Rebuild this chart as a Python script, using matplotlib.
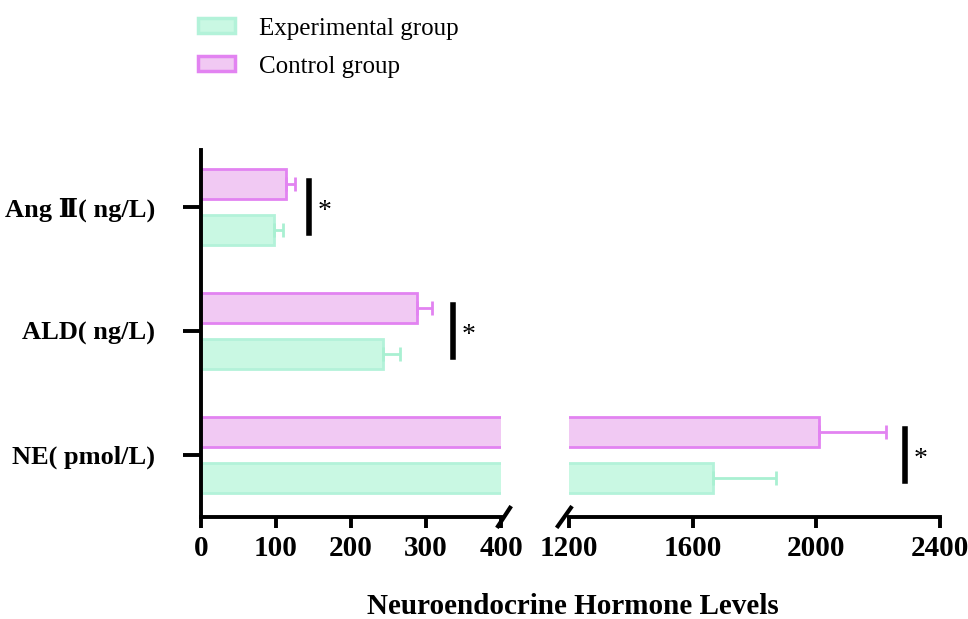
import numpy as np
import matplotlib.pyplot as plt
from matplotlib.patches import Patch

plt.rcParams['font.family'] = ['Liberation Serif', 'DejaVu Serif', 'Noto Sans CJK SC']

# data
categories = ['NE( pmol/L)', 'ALD( ng/L)', 'Ang Ⅱ( ng/L)']
exp_mean = [1665, 243, 97]
exp_err = [203, 22, 12]
ctl_mean = [2010, 288, 113]
ctl_err = [216, 20, 12]
sig_x = [2287, 336, 144]
sig_label = ['*', '*', '*']

exp_face, exp_edge = '#c9f8e3', '#b3f2d9'
ctl_face, ctl_edge = '#f1c9f3', '#e283f1'

fig = plt.figure(figsize=(9.68, 6.19), dpi=100)
ax1 = fig.add_axes([0.2076, 0.1648, 0.3100, 0.5929])
ax2 = fig.add_axes([0.5878, 0.1648, 0.3833, 0.5929])

y = np.arange(len(categories))
h = 0.245
off = 0.187

for ax in (ax1, ax2):
    ax.barh(y - off, exp_mean, h, color=exp_face, edgecolor=exp_edge, linewidth=2,
            xerr=[np.zeros(3), exp_err], error_kw=dict(ecolor='#a9f0d2', elinewidth=2, capsize=5, capthick=2))
    ax.barh(y + off, ctl_mean, h, color=ctl_face, edgecolor=ctl_edge, linewidth=2,
            xerr=[np.zeros(3), ctl_err], error_kw=dict(ecolor=ctl_edge, elinewidth=2, capsize=5, capthick=2))
    ax.set_ylim(-0.5, 2.46)
    for s in ('top', 'right'):
        ax.spines[s].set_visible(False)
    ax.spines['bottom'].set_linewidth(2.8)
    ax.spines['left'].set_linewidth(2.8)
    ax.tick_params(axis='x', length=8, width=2.8, pad=5)

ax1.set_xlim(0, 400)
ax1.set_xticks([0, 100, 200, 300, 400])
ax1.set_xticklabels(['0', '100', '200', '300', '400'], fontweight='bold', fontsize=21)
ax1.set_yticks(y)
ax1.set_yticklabels(categories, fontweight='bold', fontsize=19)
ax1.tick_params(axis='y', length=13, width=2.8, pad=20)

ax2.set_xlim(1200, 2400)
ax2.set_xticks([1200, 1600, 2000, 2400])
ax2.set_xticklabels(['1200', '1600', '2000', '2400'], fontweight='bold', fontsize=21)
ax2.spines['left'].set_visible(False)
ax2.set_yticks([])

# break marks
kw = dict(color='k', lw=3, clip_on=False)
ax1.plot([0.99, 1.03], [-0.025, 0.025], transform=ax1.transAxes, **kw)
ax2.plot([-0.03, 0.005], [-0.025, 0.025], transform=ax2.transAxes, **kw)

# significance markers
for i, (sx, lab) in enumerate(zip(sig_x, sig_label)):
    ax = ax2 if sx > 400 else ax1
    ax.plot([sx, sx], [i - 0.21, i + 0.21], color='k', lw=4, clip_on=False)
    ax.annotate(lab, (sx, i - 0.04), xytext=(6, 0), textcoords='offset points',
                fontsize=20, va='center', ha='left')

fig.text(0.592, 0.008, 'Neuroendocrine Hormone Levels', ha='center', va='baseline',
         fontsize=21, fontweight='bold')

handles = [Patch(facecolor=exp_face, edgecolor=exp_edge, linewidth=2.5, label='Experimental group'),
           Patch(facecolor=ctl_face, edgecolor=ctl_edge, linewidth=2.5, label='Control group')]
fig.legend(handles=handles, loc='upper left', bbox_to_anchor=(0.181, 1.008), frameon=False,
           fontsize=18, handlelength=1.5, handleheight=0.55, labelspacing=0.65, handletextpad=0.95)

fig.savefig('out.png', dpi=100)
